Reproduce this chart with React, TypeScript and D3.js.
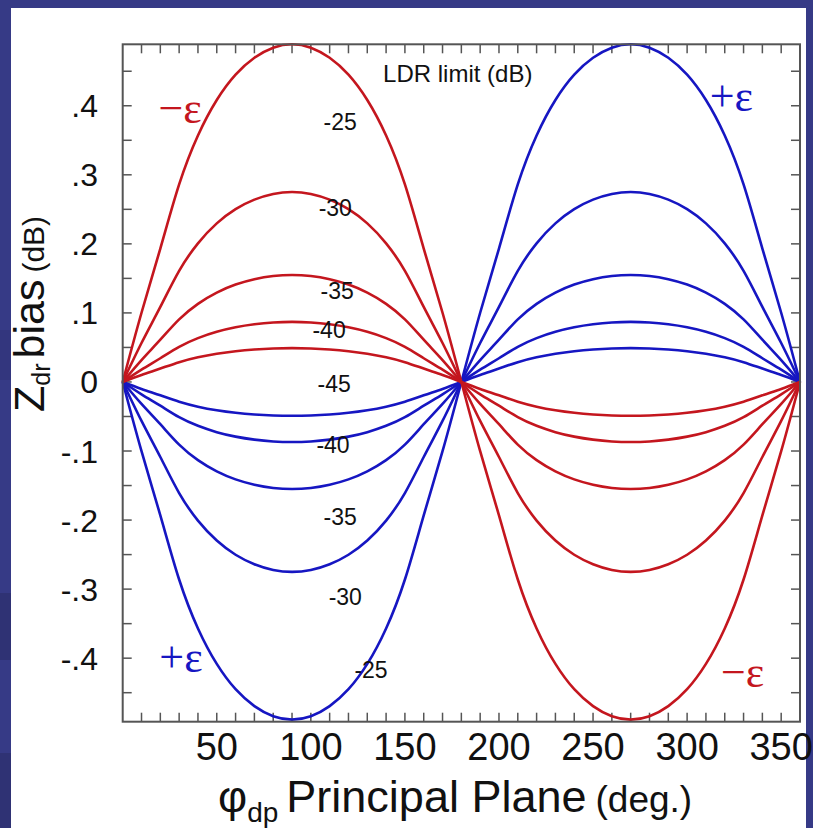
import React from 'react';
import * as d3 from 'd3';

// LDR limit (dB) of each curve and the peak |Zdr bias| (dB)
const ldrLimits = [-25, -30, -35, -40, -45];
const biasAmplitude = [0.489, 0.275, 0.155, 0.087, 0.049];
// normalised curve profile over a quarter period (phi 0..90 deg), read from the -25 / -30 curves
const profilePhi = [0, 10, 20, 30, 40, 50, 60, 70, 80, 90];
const profileShape = [0, 0.205, 0.395, 0.585, 0.73, 0.835, 0.91, 0.96, 0.99, 1];

const xTickValues = [50, 100, 150, 200, 250, 300, 350];
const yTickValues = [0.4, 0.3, 0.2, 0.1, 0, -0.1, -0.2, -0.3, -0.4];
const yTickText = ['.4', '.3', '.2', '.1', '0', '-.1', '-.2', '-.3', '-.4'];

// curve labels, in data coordinates (phi, bias)
const redLabels = [
  { t: '-25', phi: 115.6, v: 0.365 },
  { t: '-30', phi: 113, v: 0.24 },
  { t: '-35', phi: 114, v: 0.12 },
  { t: '-40', phi: 109.7, v: 0.064 },
  { t: '-45', phi: 112.4, v: -0.014 },
];
const blueLabels = [
  { t: '-40', phi: 111.8, v: -0.103 },
  { t: '-35', phi: 115.6, v: -0.207 },
  { t: '-30', phi: 118.3, v: -0.323 },
  { t: '-25', phi: 132, v: -0.429 },
];
const epsLabels = [
  { t: '\u2212\u03b5', phi: 30.5, v: 0.396, c: 'red' },
  { t: '+\u03b5', phi: 323.5, v: 0.413, c: 'blue' },
  { t: '+\u03b5', phi: 31, v: -0.399, c: 'blue' },
  { t: '\u2212\u03b5', phi: 329.5, v: -0.42, c: 'red' },
];

const RED = '#c4161e';
const BLUE = '#1616c2';
const FONT = 'Liberation Sans, Arial, sans-serif';

function fullCurve(amp: number, sign: number) {
  const pts: [number, number][] = [];
  // quarter profile mirrored to a half period, negated on the second half
  for (let half = 0; half < 2; half++) {
    const s = half === 0 ? sign : -sign;
    const base = half * 180;
    profilePhi.forEach((p, i) => {
      if (half === 1 && i === 0) return;
      pts.push([base + p, s * amp * profileShape[i]]);
    });
    for (let i = profilePhi.length - 2; i >= 0; i--) {
      pts.push([base + 180 - profilePhi[i], s * amp * profileShape[i]]);
    }
  }
  return pts;
}

export default function App() {
  const W = 813, H = 828;
  const x0 = 122.7, x1 = 800, yTop = 44.3, yBot = 721.7;
  const x = d3.scaleLinear().domain([0, 360]).range([x0, x1]);
  const y = d3.scaleLinear().domain([-0.492, 0.489]).range([yBot, yTop]);
  const line = d3.line<[number, number]>().x(d => x(d[0])).y(d => y(d[1])).curve(d3.curveNatural);

  const xMinor = d3.range(10, 360, 10);
  const yMinor = d3.range(-9, 10).map(k => k * 0.05).filter(v => Math.abs(v) < 0.48);
  const tl = 9;
  const tickColor = '#555';

  return (
    <svg width={W} height={H} style={{ position: 'absolute', left: 0, top: 0 }} xmlns="http://www.w3.org/2000/svg">
      <rect x={0} y={0} width={W} height={H} fill="#363a86" />
      <rect x={0} y={593} width={11} height={67} fill="#2f3274" />
      <rect x={0} y={753} width={11} height={75} fill="#2f3274" />
      <rect x={0} y={330} width={11} height={50} fill="#33367e" />
      <rect x={11} y={8} width={795} height={820} fill="#ffffff" />

      {/* ticks */}
      <g stroke={tickColor} strokeWidth={1.5}>
        {xMinor.map(v => (
          <g key={'xt' + v}>
            <line x1={x(v)} x2={x(v)} y1={yTop} y2={yTop + tl} />
            <line x1={x(v)} x2={x(v)} y1={yBot} y2={yBot - tl} />
          </g>
        ))}
        {yMinor.map(v => (
          <g key={'yt' + v}>
            <line x1={x0} x2={x0 + tl} y1={y(v)} y2={y(v)} />
            <line x1={x1} x2={x1 - tl} y1={y(v)} y2={y(v)} />
          </g>
        ))}
      </g>

      {/* curves */}
      <g fill="none" strokeWidth={2.6} strokeLinejoin="round">
        {biasAmplitude.map((a, i) => (
          <path key={'b' + ldrLimits[i]} d={line(fullCurve(a, -1)) || ''} stroke={BLUE} />
        ))}
        {biasAmplitude.map((a, i) => (
          <path key={'r' + ldrLimits[i]} d={line(fullCurve(a, 1)) || ''} stroke={RED} />
        ))}
      </g>

      {/* frame */}
      <rect x={x0} y={yTop} width={x1 - x0} height={yBot - yTop} fill="none" stroke={tickColor} strokeWidth={2} />

      {/* tick labels */}
      <g fontFamily={FONT} fill="#111">
        {xTickValues.map(v => (
          <text key={'xl' + v} x={x(v)} y={760} fontSize={38} textAnchor="middle">{v}</text>
        ))}
        {yTickValues.map((v, i) => (
          <text key={'yl' + v} x={98} y={y(v) + 11.5} fontSize={32} textAnchor="end">{yTickText[i]}</text>
        ))}
      </g>

      {/* annotations */}
      <g fontFamily={FONT} fill="#111" fontSize={23}>
        <text x={x(138.4)} y={y(0.435)} fontSize={24}>LDR limit (dB)</text>
        {redLabels.map(l => (
          <text key={'rl' + l.t} x={x(l.phi)} y={y(l.v)} textAnchor="middle">{l.t}</text>
        ))}
        {blueLabels.map(l => (
          <text key={'bl' + l.t} x={x(l.phi)} y={y(l.v)} textAnchor="middle">{l.t}</text>
        ))}
      </g>
      <g fontFamily="Liberation Serif, Times New Roman, serif" fontSize={44}>
        {epsLabels.map((l, i) => (
          <text key={'e' + i} x={x(l.phi)} y={y(l.v)} dy="0.33em" textAnchor="middle" fill={l.c === 'red' ? RED : BLUE}>{l.t}</text>
        ))}
      </g>

      {/* axis titles */}
      <text x={218} y={812} fontFamily={FONT} fill="#111" fontSize={45}>
        <tspan>{'\u03c6'}</tspan>
        <tspan fontSize={28} dy={10}>dp</tspan>
        <tspan dy={-10} dx={8}>Principal Plane</tspan>
        <tspan fontSize={37} dx={9}>(deg.)</tspan>
      </text>
      <text transform="translate(44,412) rotate(-90)" fontFamily={FONT} fill="#111" fontSize={43}>
        <tspan>Z</tspan>
        <tspan fontSize={25} dy={6}>dr</tspan>
        <tspan dy={-6} dx={5}>bias</tspan>
        <tspan fontSize={30} dx={7}>(dB)</tspan>
      </text>
    </svg>
  );
}
